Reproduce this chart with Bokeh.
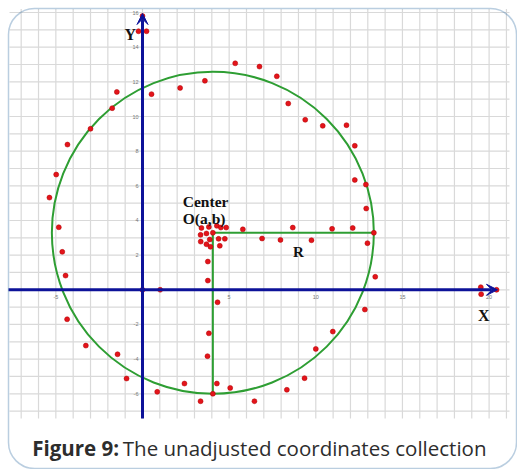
from bokeh.plotting import figure
from bokeh.models import Range1d, BoxAnnotation, Arrow, VeeHead
from bokeh.core.properties import value
from bokeh.embed import file_html
from bokeh.resources import INLINE

# Surveyed (unadjusted) coordinates
pts_x = [0.0, -0.23, 0.23, 5.35, 6.75, 3.6, 2.17, 0.52, -1.48, -1.75, -3.0, -4.33,
         7.75, 8.41, 9.39, 10.4, 11.77, 12.25,
         -4.98, -5.37, -4.83, -4.63, -4.44, -4.35, 0.0, 1.02,
         3.40, 3.83, 4.29, 4.52, 4.83, 5.79, 3.35, 3.69, 4.06, 3.36, 3.69, 3.88,
         3.92, 4.39, 4.75, 4.46, 3.77, 3.77, 4.33,
         12.25, 12.89, 12.91, 8.67, 10.94, 12.13, 13.35, 6.9, 7.96, 9.75, 12.98,
         13.43, 19.52, 19.54, 20.43, 12.83,
         -3.27, -1.44, -0.92, 0.85, 2.42, 3.35, 4.06, 4.29, 5.06, 6.46, 3.83, 3.75,
         10.98, 10.0, 9.35, 8.33]
pts_y = [15.8, 14.92, 14.92, 13.07, 12.88, 12.06, 11.65, 11.29, 11.42, 10.48, 9.29, 8.38,
         12.32, 10.75, 9.81, 9.46, 9.5, 8.31,
         6.65, 5.32, 3.61, 2.19, 0.82, -1.7, 0.0, 0.0,
         3.57, 3.63, 3.69, 3.59, 3.59, 3.49, 3.17, 3.25, 3.29, 2.78, 2.63, 2.9,
         2.48, 2.94, 2.94, 2.54, 1.63, 0.53, -0.72,
         6.34, 6.07, 4.69, 3.59, 3.52, 3.57, 3.29, 2.96, 2.88, 2.86, 2.69,
         0.75, 0.15, -0.25, 0.0, -1.14,
         -3.22, -3.72, -5.12, -5.89, -5.41, -6.43, -6.0, -5.41, -5.66, -6.43, -2.51, -3.83,
         -2.41, -3.41, -5.1, -5.77]

# Fitted circle: centre O(a, b) and radius R
center_a = 4.06
center_b = 3.29
radius_r = 9.29

x_tick_values = [-5, 5, 10, 15, 20]
y_tick_values = [-6, -4, -2, 2, 4, 6, 8, 10, 12, 14, 16]
grid_x = list(range(-7, 22))
grid_y = list(range(-7, 17))

# Canvas geometry: pixels per unit and where the origin sits
W, H = 517, 469
PX = 17.33
OX, OY = 142.0, 289.3


def sx(px):
    return (px - OX) / PX


def sy(py):
    return (OY - py) / PX


AXIS_BLUE = "#0d1299"
GREEN = "#2e9e33"
RED = "#e3141b"
FRAME_BLUE = "#1b5e98"

p = figure(width=W, height=H,
           x_range=Range1d(sx(0), sx(W)), y_range=Range1d(sy(H), sy(0)),
           x_axis_location=None, y_axis_location=None,
           toolbar_location=None, min_border=0,
           output_backend="svg", outline_line_color=None,
           background_fill_color="white", border_fill_color="white")
p.grid.visible = False

# graph area extents
gx0, gx1 = sx(9), sx(509)
gy0, gy1 = sy(418), sy(8.5)

# unit grid
p.segment(x0=grid_x, y0=[gy0] * len(grid_x), x1=grid_x, y1=[gy1] * len(grid_x),
          line_color="#d9d9d9", line_width=1.2)
p.segment(x0=[gx0] * len(grid_y), y0=grid_y, x1=[gx1] * len(grid_y), y1=grid_y,
          line_color="#d9d9d9", line_width=1.2)

# tick numbers
p.text(x=[0] * len(y_tick_values), y=y_tick_values, text=[str(v) for v in y_tick_values],
       x_offset=-4, text_align="right", text_baseline="middle",
       text_font=value("Liberation Sans"), text_font_size="5.5px", text_color="#777777")
p.text(x=x_tick_values, y=[0] * len(x_tick_values), text=[str(v) for v in x_tick_values],
       y_offset=7, text_align="center", text_baseline="middle",
       text_font=value("Liberation Sans"), text_font_size="5.5px", text_color="#777777")

# circle, radius and centre drop line
p.circle(x=[center_a], y=[center_b], radius=radius_r, fill_color=None,
         line_color=GREEN, line_width=2)
p.segment(x0=[center_a, center_a], y0=[center_b, center_b],
          x1=[center_a + radius_r, center_a], y1=[center_b, center_b - radius_r],
          line_color=GREEN, line_width=2)

# coordinate axes with arrow heads
p.add_layout(Arrow(x_start=0, y_start=gy0, x_end=0, y_end=sy(13),
                   line_color=AXIS_BLUE, line_width=3,
                   end=VeeHead(size=11, fill_color=AXIS_BLUE, line_color=AXIS_BLUE, line_width=1)))
p.add_layout(Arrow(x_start=sx(8), y_start=0, x_end=sx(497), y_end=0,
                   line_color=AXIS_BLUE, line_width=3,
                   end=VeeHead(size=11, fill_color=AXIS_BLUE, line_color=AXIS_BLUE, line_width=1)))

# points
p.scatter(x=pts_x, y=pts_y, size=5, fill_color=RED, line_color="#b00000", line_width=0.5)

# annotations
serif = dict(text_font=value("Liberation Serif"), text_font_style="bold",
             text_color="#111111", text_baseline="alphabetic")
p.text(x=[sx(135.5)], y=[sy(34)], text=["Y"], text_align="right", text_font_size="16px", **serif)
p.text(x=[sx(483.3)], y=[sy(315)], text=["X"], text_align="center", text_font_size="16px", **serif)
p.text(x=[sx(298)], y=[sy(251.7)], text=["R"], text_align="center", text_font_size="15px", **serif)
p.text(x=[sx(182.3), sx(182.3)], y=[sy(201.3), sy(217.6)], text=["Center", "O(a,b)"],
       text_align="left", text_font_size="15.5px", **serif)

# caption
p.text(x=[sx(31.7)], y=[sy(447.5)], text=["Figure 9:"], text_align="left",
       text_baseline="alphabetic", text_font=value("Open Sans"), text_font_style="bold",
       text_font_size="20.5px", text_color="#2d2d2d")
p.text(x=[sx(122.3)], y=[sy(447.5)], text=["The unadjusted coordinates collection"],
       text_align="left", text_baseline="alphabetic", text_font=value("Open Sans"),
       text_font_size="20.5px", text_color="#2d2d2d")

# rounded frame
p.add_layout(BoxAnnotation(left=sx(8), right=sx(516), top=sy(8), bottom=sy(468),
                           fill_color=None, fill_alpha=0, line_color=FRAME_BLUE,
                           line_width=1.5, border_radius=26))

open("out.html", "w").write(file_html(p, INLINE))
